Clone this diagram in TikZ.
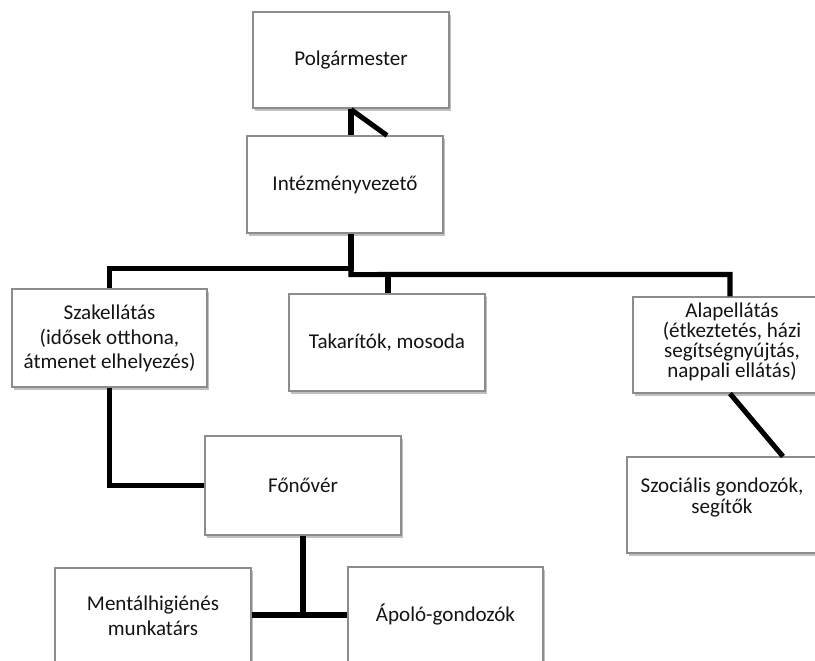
\documentclass[tikz,border=0pt]{standalone}
\usepackage{fontspec}
\setmainfont{Carlito}
\usetikzlibrary{calc,shadows}
\definecolor{boxgray}{HTML}{8C8C8C}
\definecolor{txtcol}{HTML}{141414}
\begin{document}
\begin{tikzpicture}[x=0.75pt,y=-0.75pt,
  box/.style 2 args={draw=boxgray, line width=0.8pt, fill=white, inner sep=0pt,
    minimum width=#1*0.75pt, minimum height=#2*0.75pt,
    drop shadow={shadow xshift=1.2pt, shadow yshift=-2pt, opacity=0.35, fill=black!70}},
  txt/.style={align=center, inner sep=0pt, text=txtcol},
  conn/.style={line width=3.8pt, black, line join=miter, line cap=butt}
]
\useasboundingbox (0,0) rectangle (815,661);
\fill[white] (0,0) rectangle (815,661);
\begin{scope}
\clip (0,0) rectangle (815,661);
% boxes
\node[box={196}{96}] (polg) at (351,60) {};
\node[box={196}{97}] (intez) at (345,184.5) {};
\node[box={195}{98}] (szak) at (109.5,338) {};
\node[box={196}{97}] (tak) at (387,342.5) {};
\node[box={198}{96}] (alap) at (732,345) {};
\node[box={190}{96}] (szoc) at (722,505) {};
\node[box={196}{99}] (fono) at (303,485.5) {};
\node[box={196}{96}] (ment) at (153,616) {};
\node[box={195}{96}] (apolo) at (445.5,615) {};
% texts
\node[txt, font=\fontsize{15.8pt}{18pt}\selectfont] (polg-t) at (polg) {Polgármester};
\node[txt, font=\fontsize{15.8pt}{18pt}\selectfont] (intez-t) at (intez) {Intézményvezető};
\node[txt, font=\fontsize{15.8pt}{18pt}\selectfont] (szak-t) at (109.5,338.5) {Szakellátás\\[1pt](idősek otthona,\\átmenet elhelyezés)};
\node[txt, font=\fontsize{15.8pt}{18pt}\selectfont] (tak-t) at (tak) {Takarítók, mosoda};
\node[txt, font=\fontsize{15.8pt}{15pt}\selectfont] (alap-t) at (732,342) {Alapellátás\\(étkeztetés, házi\\segítségnyújtás,\\nappali ellátás)};
\node[txt, font=\fontsize{15.8pt}{15.8pt}\selectfont] (szoc-t) at (722,497.5) {Szociális gondozók,\\segítők};
\node[txt, font=\fontsize{15.8pt}{18pt}\selectfont] (fono-t) at (fono) {Főnővér};
\node[txt, font=\fontsize{15.8pt}{18.5pt}\selectfont] (ment-t) at (153,615.5) {Mentálhigiénés\\munkatárs};
\node[txt, font=\fontsize{15.8pt}{18pt}\selectfont] (apolo-t) at (apolo) {Ápoló-gondozók};
% junction coordinates
\coordinate (j1) at ($(intez.south)+(6,35)$);
\coordinate (j2) at ($(intez.south)+(6,41)$);
\coordinate (j3) at ($(tak.north)+(1,-20)$);
% connectors
\draw[conn] (polg.south) -- (polg.south |- intez.north);
\draw[conn] ($(polg.south)+(0,1)$) -- ($(intez.north)+(42,0)$);
\draw[conn] ($(intez.south)+(6,0)$) -- (j1) -| (szak.north);
\draw[conn] (j1) -- (j2) -- ($(alap.north)+(-2,-22)$) -- ($(alap.north)+(-2,0)$);
\draw[conn] (j3) -- ($(tak.north)+(1,0)$);
\draw[conn] ($(alap.south)+(-2,0)$) -- ($(szoc.north)+(61,0)$);
\draw[conn] (szak.south) |- (fono.west);
\draw[conn] (fono.south) -- (fono.south |- apolo.west);
\draw[conn] (ment.east |- apolo.west) -- (apolo.west);
\end{scope}
\end{tikzpicture}
\end{document}
